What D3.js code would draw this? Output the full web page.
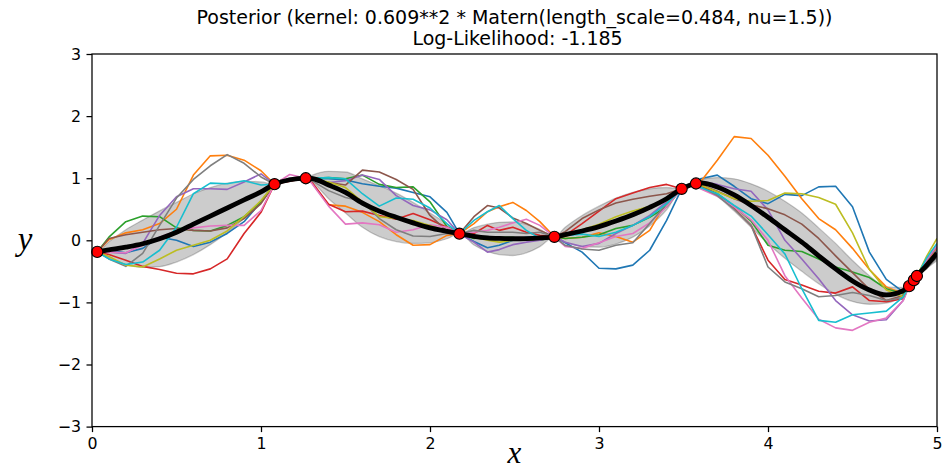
<!DOCTYPE html>
<html>
<head>
<meta charset="utf-8">
<script src="https://cdn.jsdelivr.net/npm/d3@7"></script>
<style>
  body { margin: 0; background: #fff; }
  svg { display: block; }
  text { font-family: "DejaVu Sans", sans-serif; }
</style>
</head>
<body>
<svg id="chart" width="942" height="471"></svg>
<script>
// ---- data ---------------------------------------------------------------
const titleLines = [
  "Posterior (kernel: 0.609**2 * Matern(length_scale=0.484, nu=1.5))",
  " Log-Likelihood: -1.185"
];
const xTicks = [0, 1, 2, 3, 4, 5];
const yTicks = [-3, -2, -1, 0, 1, 2, 3];

// observed training points
const trainX = [4.835, 2.736, 4.863, 3.574, 3.489, 1.080, 4.881, 0.031, 1.265, 2.174];
const trainY = [-0.738, 0.056, -0.642, 0.915, 0.829, 0.903, -0.575, -0.187, 0.999, 0.106];

// evaluation grid shared by mean, band and posterior samples
const gridX = [0, 0.031, 0.1, 0.2, 0.3, 0.4, 0.5, 0.6, 0.7, 0.8, 0.9, 1.0,
  1.08, 1.17, 1.265,
  1.3, 1.4, 1.5, 1.6, 1.7, 1.8, 1.9, 2.0, 2.1, 2.174,
  2.26, 2.34, 2.41, 2.49, 2.57, 2.65, 2.736,
  2.8, 2.9, 3.0, 3.1, 3.2, 3.3, 3.4, 3.489, 3.53, 3.574,
  3.6, 3.7, 3.8, 3.9, 4.0, 4.1, 4.2, 4.3, 4.4, 4.5, 4.6, 4.7, 4.8,
  4.835, 4.863, 4.881, 4.94, 5.0];

// posterior mean
const meanY = [-0.20, -0.187, -0.155, -0.11, -0.055, 0.025, 0.13, 0.26, 0.39, 0.52, 0.65, 0.78,
  0.903, 0.975, 0.999,
  0.995, 0.89, 0.77, 0.60, 0.47, 0.37, 0.28, 0.20, 0.145, 0.106,
  0.065, 0.04, 0.03, 0.025, 0.028, 0.038, 0.056,
  0.09, 0.15, 0.22, 0.31, 0.41, 0.53, 0.67, 0.829, 0.88, 0.915,
  0.925, 0.86, 0.73, 0.56, 0.37, 0.17, -0.03, -0.25, -0.46, -0.655, -0.80, -0.88, -0.81,
  -0.738, -0.642, -0.575, -0.40, -0.21];

// posterior standard deviation
const stdY = [0.03, 0, 0.13, 0.28, 0.38, 0.45, 0.48, 0.49, 0.46, 0.40, 0.30, 0.16,
  0, 0.03, 0,
  0.05, 0.22, 0.33, 0.39, 0.41, 0.39, 0.33, 0.24, 0.12, 0,
  0.14, 0.22, 0.26, 0.27, 0.23, 0.14, 0,
  0.12, 0.25, 0.33, 0.37, 0.36, 0.30, 0.18, 0, 0.02, 0,
  0.05, 0.15, 0.26, 0.35, 0.42, 0.46, 0.47, 0.45, 0.41, 0.33, 0.23, 0.13, 0.05,
  0, 0, 0, 0.05, 0.12];

// ten posterior samples
const sample0 = [-0.19, -0.187, -0.16, -0.20, -0.13, 0.05, 0.0, -0.10, -0.03, 0.11, 0.30, 0.62,
  0.903, 0.96, 0.999,
  0.99, 0.99, 0.97, 0.91, 0.87, 0.84, 0.77, 0.70, 0.45, 0.106,
  -0.02, -0.12, -0.08, 0.0, 0.05, 0.05, 0.056,
  -0.04, -0.19, -0.45, -0.46, -0.40, -0.16, 0.32, 0.829, 0.87, 0.915,
  0.99, 1.05, 0.87, 0.67, 0.59, 0.74, 0.72, 0.86, 0.87, 0.54, -0.19, -0.63, -0.83,
  -0.738, -0.642, -0.575, -0.36, -0.15];
const sample1 = [-0.19, -0.187, 0.01, 0.12, 0.17, 0.27, 0.50, 1.05, 1.36, 1.37, 1.29, 1.12,
  0.903, 0.97, 0.999,
  0.93, 0.57, 0.55, 0.45, 0.30, 0.09, -0.08, -0.07, 0.08, 0.106,
  0.27, 0.46, 0.54, 0.61, 0.48, 0.30, 0.056,
  0.03, 0.05, 0.12, 0.06, -0.03, 0.16, 0.62, 0.829, 0.87, 0.915,
  0.94, 1.29, 1.67, 1.64, 1.37, 1.03, 0.67, 0.35, 0.17, -0.13, -0.47, -0.75, -0.86,
  -0.738, -0.642, -0.575, -0.34, -0.12];
const sample2 = [-0.19, -0.187, 0.05, 0.30, 0.39, 0.38, 0.20, 0.16, 0.15, 0.24, 0.38, 0.62,
  0.903, 0.96, 0.999,
  1.0, 1.01, 0.99, 1.05, 0.90, 0.85, 0.86, 0.62, 0.22, 0.106,
  0.03, 0.05, 0.05, 0.05, 0.0, 0.0, 0.056,
  0.03, 0.05, 0.09, 0.19, 0.24, 0.37, 0.54, 0.829, 0.87, 0.915,
  0.87, 0.75, 0.55, 0.31, -0.08, -0.16, -0.18, -0.30, -0.43, -0.51, -0.60, -0.78, -0.86,
  -0.738, -0.642, -0.575, -0.40, -0.22];
const sample3 = [-0.19, -0.187, -0.23, -0.32, -0.42, -0.47, -0.53, -0.54, -0.46, -0.30, 0.11, 0.45,
  0.903, 0.95, 0.999,
  0.94, 0.58, 0.46, 0.47, 0.40, 0.34, 0.43, 0.33, 0.21, 0.106,
  0.11, 0.24, 0.16, 0.21, 0.13, 0.08, 0.056,
  0.08, 0.27, 0.47, 0.67, 0.76, 0.85, 0.90, 0.829, 0.87, 0.915,
  0.89, 0.74, 0.51, 0.24, -0.32, -0.63, -0.72, -0.82, -0.85, -0.75, -0.97, -0.99, -0.94,
  -0.738, -0.642, -0.575, -0.38, -0.20];
const sample4 = [-0.19, -0.187, -0.19, -0.21, -0.05, 0.40, 0.70, 0.83, 0.83, 0.82, 0.94, 1.07,
  0.903, 1.0, 0.999,
  0.98, 0.93, 0.96, 1.05, 0.98, 0.72, 0.56, 0.49, 0.33, 0.106,
  -0.03, -0.19, -0.15, -0.07, -0.03, 0.0, 0.056,
  -0.03, -0.10, -0.05, 0.11, 0.24, 0.40, 0.62, 0.829, 0.88, 0.915,
  0.95, 0.90, 0.83, 0.79, 0.49, 0.0, -0.30, -0.62, -0.97, -1.20, -1.30, -1.28, -0.97,
  -0.738, -0.642, -0.575, -0.32, -0.10];
const sample5 = [-0.19, -0.187, 0.03, 0.09, 0.13, 0.17, 0.19, 0.16, 0.15, 0.20, 0.35, 0.59,
  0.903, 0.96, 0.999,
  0.99, 0.93, 0.89, 1.13, 1.10, 0.98, 0.82, 0.40, 0.15, 0.106,
  0.38, 0.56, 0.52, 0.36, 0.27, 0.16, 0.056,
  0.14, 0.35, 0.49, 0.60, 0.66, 0.71, 0.75, 0.829, 0.87, 0.915,
  0.90, 0.79, 0.67, 0.57, 0.51, 0.41, 0.26, 0.03, -0.25, -0.52, -0.79, -0.97, -0.89,
  -0.738, -0.642, -0.575, -0.42, -0.25];
const sample6 = [-0.19, -0.187, -0.19, -0.20, -0.08, 0.05, 0.15, 0.20, 0.23, 0.24, 0.24, 0.48,
  0.903, 1.06, 0.999,
  0.92, 0.55, 0.26, 0.28, 0.25, 0.13, 0.17, 0.25, 0.21, 0.106,
  0.13, 0.16, 0.21, 0.28, 0.34, 0.24, 0.056,
  -0.10, -0.13, -0.04, 0.06, 0.11, 0.28, 0.54, 0.829, 0.87, 0.915,
  0.83, 0.71, 0.54, 0.33, 0.0, -0.57, -0.93, -1.27, -1.41, -1.45, -1.32, -1.25, -0.97,
  -0.738, -0.642, -0.575, -0.30, -0.08];
const sample7 = [-0.19, -0.187, -0.30, -0.42, -0.21, 0.24, 0.68, 0.98, 1.20, 1.38, 1.24, 1.02,
  0.903, 0.96, 0.999,
  0.96, 0.80, 0.69, 0.63, 0.35, 0.17, 0.07, 0.06, 0.11, 0.106,
  0.16, 0.13, 0.13, 0.13, 0.11, 0.13, 0.056,
  -0.08, -0.14, -0.16, -0.08, -0.04, 0.27, 0.59, 0.829, 0.87, 0.915,
  0.86, 0.72, 0.50, 0.24, -0.43, -0.67, -0.78, -0.91, -0.89, -0.84, -0.89, -0.97, -0.92,
  -0.738, -0.642, -0.575, -0.45, -0.28];
const sample8 = [-0.19, -0.187, -0.26, -0.40, -0.43, -0.30, -0.16, -0.08, 0.0, 0.15, 0.38, 0.64,
  0.903, 0.97, 0.999,
  0.99, 0.94, 0.85, 0.62, 0.38, 0.35, 0.32, 0.24, 0.15, 0.106,
  0.05, 0.0, -0.03, 0.0, 0.0, 0.03, 0.056,
  0.06, 0.17, 0.26, 0.38, 0.47, 0.55, 0.64, 0.829, 0.87, 0.915,
  0.89, 0.78, 0.67, 0.63, 0.64, 0.76, 0.75, 0.69, 0.58, 0.12, -0.47, -0.80, -0.91,
  -0.738, -0.642, -0.575, -0.25, 0.03];
const sample9 = [-0.19, -0.187, -0.30, -0.39, -0.35, -0.16, 0.21, 0.75, 0.92, 0.91, 0.96, 0.89,
  0.903, 0.97, 0.999,
  1.0, 1.01, 0.99, 0.75, 0.55, 0.68, 0.66, 0.52, 0.27, 0.106,
  0.32, 0.46, 0.56, 0.35, 0.16, 0.03, 0.056,
  0.08, 0.10, 0.06, 0.13, 0.24, 0.38, 0.59, 0.829, 0.87, 0.915,
  0.85, 0.75, 0.56, 0.39, 0.09, -0.22, -0.78, -1.29, -1.32, -1.20, -1.17, -1.14, -0.91,
  -0.738, -0.642, -0.575, -0.28, -0.05];
const samples = [sample0, sample1, sample2, sample3, sample4, sample5, sample6, sample7, sample8, sample9];

// ---- layout -------------------------------------------------------------
const plot = { left: 92, right: 937, top: 54, bottom: 426.6 };
const svg = d3.select("#chart");

const x = d3.scaleLinear().domain([0, 5]).range([plot.left, plot.right]);
const y = d3.scaleLinear().domain([-3, 3]).range([plot.bottom, plot.top]);

svg.append("defs").append("clipPath").attr("id", "plot-clip")
  .append("rect")
  .attr("x", plot.left).attr("y", plot.top)
  .attr("width", plot.right - plot.left).attr("height", plot.bottom - plot.top);

const body = svg.append("g").attr("clip-path", "url(#plot-clip)");

// uncertainty band: mean +/- one standard deviation
const band = d3.area()
  .x((d, i) => x(gridX[i]))
  .y0((d, i) => y(meanY[i] - stdY[i]))
  .y1((d, i) => y(meanY[i] + stdY[i]))
  .curve(d3.curveMonotoneX);
body.append("path")
  .attr("d", band(gridX))
  .attr("fill", "#000").attr("fill-opacity", 0.2)
  .attr("stroke", "#000").attr("stroke-opacity", 0.2).attr("stroke-width", 1.3);

// posterior samples
const sampleLine = d3.line()
  .x((d, i) => x(gridX[i]))
  .y(d => y(d));
const colors = d3.schemeCategory10;
samples.forEach((s, k) => {
  body.append("path")
    .attr("d", sampleLine(s))
    .attr("fill", "none")
    .attr("stroke", colors[k])
    .attr("stroke-width", 1.6)
    .attr("stroke-linejoin", "round");
});

// posterior mean
const meanLine = d3.line()
  .x((d, i) => x(gridX[i]))
  .y(d => y(d))
  .curve(d3.curveMonotoneX);
body.append("path")
  .attr("d", meanLine(meanY))
  .attr("fill", "none")
  .attr("stroke", "#000")
  .attr("stroke-width", 4.8)
  .attr("stroke-linejoin", "round");

// training observations
svg.append("g").selectAll("circle")
  .data(trainX)
  .join("circle")
  .attr("cx", d => x(d))
  .attr("cy", (d, i) => y(trainY[i]))
  .attr("r", 5.6)
  .attr("fill", "#ff0000")
  .attr("stroke", "#000")
  .attr("stroke-width", 1.1);

// axes
const fmt = d => (d < 0 ? "\u2212" + Math.abs(d) : String(d));
const xAxis = svg.append("g")
  .attr("transform", `translate(0,${plot.bottom})`)
  .call(d3.axisBottom(x).tickValues(xTicks).tickFormat(fmt).tickSize(5.5).tickPadding(5.5));
const yAxis = svg.append("g")
  .attr("transform", `translate(${plot.left},0)`)
  .call(d3.axisLeft(y).tickValues(yTicks).tickFormat(fmt).tickSize(5.5).tickPadding(5.5));
[xAxis, yAxis].forEach(g => {
  g.select(".domain").remove();
  g.selectAll(".tick line").attr("stroke", "#000").attr("stroke-width", 1.26);
  g.selectAll(".tick text")
    .attr("fill", "#000")
    .style("font-family", "'DejaVu Sans', sans-serif")
    .style("font-size", "15.8px");
});

// frame
svg.append("rect")
  .attr("x", plot.left).attr("y", plot.top)
  .attr("width", plot.right - plot.left).attr("height", plot.bottom - plot.top)
  .attr("fill", "none").attr("stroke", "#000").attr("stroke-width", 1.26);

// title
svg.append("g").selectAll("text")
  .data(titleLines)
  .join("text")
  .attr("x", (plot.left + plot.right) / 2)
  .attr("y", (d, i) => 24 + i * 20.5)
  .attr("text-anchor", "middle")
  .attr("fill", "#000")
  .style("font-size", "19px")
  .style("white-space", "pre")
  .text(d => d);

// axis labels
svg.append("text")
  .attr("x", (plot.left + plot.right) / 2)
  .attr("y", 463)
  .attr("text-anchor", "middle")
  .style("font-family", "'Liberation Serif', serif")
  .style("font-style", "italic")
  .style("font-size", "31px")
  .text("x");
svg.append("text")
  .attr("x", 25)
  .attr("y", 250)
  .attr("text-anchor", "middle")
  .style("font-family", "'Liberation Serif', serif")
  .style("font-style", "italic")
  .style("font-size", "33px")
  .text("y");
</script>
</body>
</html>
